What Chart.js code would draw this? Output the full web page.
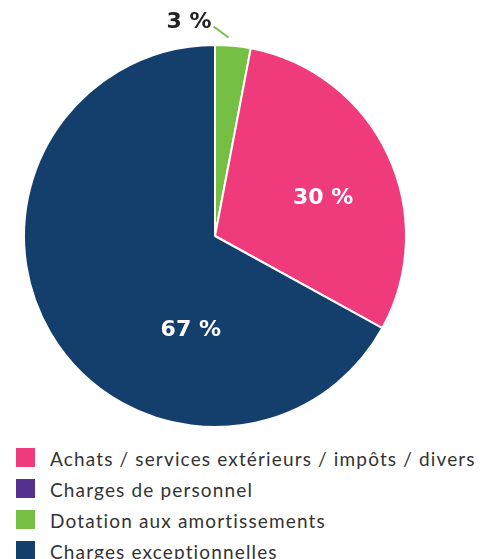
<!DOCTYPE html>
<html>
<head>
<meta charset="utf-8">
<script src="https://cdn.jsdelivr.net/npm/chart.js@4/dist/chart.umd.min.js"></script>
<style>
    body { margin: 0; background: #fff; width: 480px; height: 559px; overflow: hidden; position: relative; }
    #wrap { position: absolute; left: 0; top: 0; width: 480px; height: 440px; }
    #legend { position: absolute; left: 16px; top: 448px; font-family: "Lato", sans-serif; font-size: 19px; letter-spacing: 1.15px; color: #333; }
    .row { height: 31px; display: flex; align-items: flex-start; }
    .box { width: 19px; height: 19px; margin-right: 15px; flex: none; }
    .txt { line-height: 19px; margin-top: 1px; white-space: nowrap; }
</style>
</head>
<body>
<div id="wrap"><canvas id="canvas" width="480" height="440"></canvas></div>
<div id="legend"></div>
<script>
const categories = ["Achats / services extérieurs / impôts / divers", "Charges de personnel", "Dotation aux amortissements", "Charges exceptionnelles"];
const values = [30, 0, 3, 67];
const valueLabels = ["30 %", "", "3 %", "67 %"];
const colors = ["#ef3a7b", "#55308f", "#75c044", "#143f6d"];

// order of the slices, clockwise from the top
const drawOrder = [2, 0, 1, 3];

function legend() {
    let div = document.getElementById("legend");
    let html = "";
    for (let i = 0; i < categories.length; i++) {
        html += `<div class="row"><div class="box" style="background:${colors[i]}"></div><div class="txt">${categories[i]}</div></div>`;
    }
    div.innerHTML = html;
}

// label placement: angle shift (deg) and radius factor, per category
const labelPlace = [
    { da: 6, rf: 0.6, inside: true },
    null,
    { inside: false },
    { da: -45, rf: 0.51, inside: true }
];

const labelPlugin = {
    id: "labels",
    afterDatasetsDraw(chart) {
        const ctx = chart.ctx;
        const arcs = chart.getDatasetMeta(0).data;
        ctx.save();
        ctx.font = "bold 22px 'DejaVu Sans', sans-serif";
        ctx.textBaseline = "middle";
        for (let j = 0; j < arcs.length; j++) {
            const i = drawOrder[j];
            const place = labelPlace[i];
            if (!place || values[i] === 0) continue;
            const arc = arcs[j];
            const mid = (arc.startAngle + arc.endAngle) / 2;
            if (place.inside) {
                const a = mid + place.da * Math.PI / 180;
                const r = arc.outerRadius * place.rf;
                ctx.fillStyle = "#fff";
                ctx.textAlign = "center";
                ctx.fillText(valueLabels[i], arc.x + r * Math.cos(a), arc.y + r * Math.sin(a));
            } else {
                const a = mid - 1.5 * Math.PI / 180;
                const r = arc.outerRadius + 8;
                const x1 = arc.x + r * Math.cos(a);
                const y1 = arc.y + r * Math.sin(a);
                const x2 = x1 - 15;
                const y2 = y1 - 11;
                ctx.strokeStyle = colors[i];
                ctx.lineWidth = 2;
                ctx.beginPath();
                ctx.moveTo(x1, y1);
                ctx.lineTo(x2, y2);
                ctx.stroke();
                ctx.fillStyle = "#222";
                ctx.textAlign = "right";
                ctx.fillText(valueLabels[i], x2 - 2, y2 - 4);
            }
        }
        ctx.restore();
    }
};

function chart() {
    const canvas = document.getElementById("canvas");
    const myChart = new Chart(canvas, {
        type: "pie",
        data: {
            labels: drawOrder.map(i => categories[i]),
            datasets: [{
                data: drawOrder.map(i => values[i]),
                backgroundColor: drawOrder.map(i => colors[i]),
                borderColor: "#fff",
                borderWidth: 2
            }]
        },
        options: {
            responsive: false,
            animation: false,
            layout: { padding: { left: 23, right: 73, top: 44, bottom: 12 } },
            plugins: {
                legend: { display: false },
                tooltip: { enabled: false }
            }
        },
        plugins: [labelPlugin]
    });
}

window.onload = function() {
    legend();
    chart();
}
</script>
</body>
</html>
